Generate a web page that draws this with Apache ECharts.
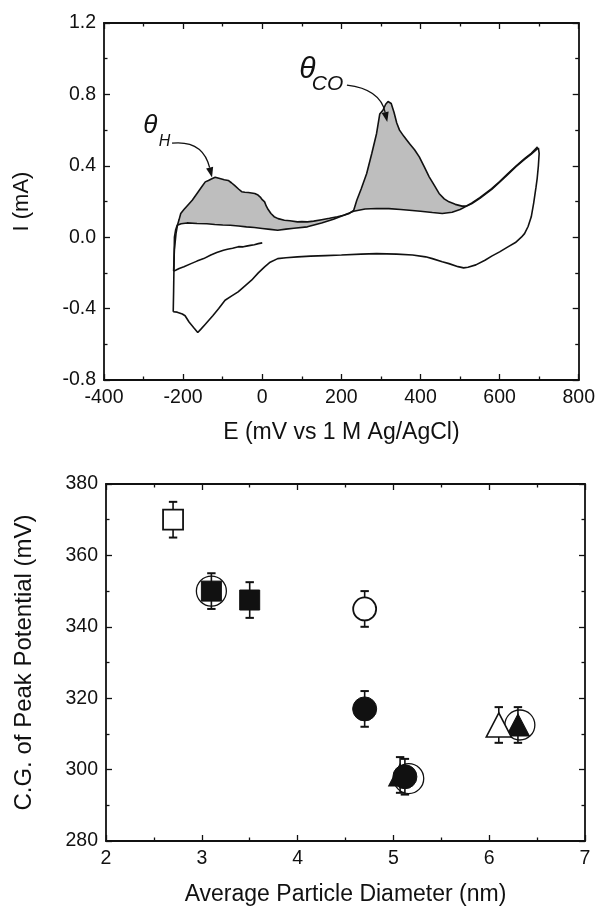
<!DOCTYPE html>
<html><head><meta charset="utf-8">
<script src="https://cdn.jsdelivr.net/npm/echarts@6/dist/echarts.min.js"></script>
<style>html,body{margin:0;padding:0;background:#fff}#c{width:598px;height:907px}</style>
</head><body><div id="c"></div>
<script>
// ---------- Top panel: cyclic voltammogram (E in mV, I in mA) ----------
const topXTicks = [-400, -200, 0, 200, 400, 600, 800];
const topYTicks = [-0.8, -0.4, 0.0, 0.4, 0.8, 1.2];

// initial cathodic sweep from 0 mV to the lower vertex
const cvInitial = [[0,-0.032],[-10,-0.036],[-20,-0.042],[-30,-0.046],[-40,-0.050],[-48,-0.054],[-60,-0.053],[-75,-0.062],[-88,-0.068],[-98,-0.073],[-115,-0.086],[-130,-0.100],[-148,-0.120],[-165,-0.134],[-180,-0.148],[-198,-0.166],[-210,-0.175],[-219,-0.185],[-224,-0.190]];

// first anodic sweep (H desorption + CO stripping peaks)
const cvAnodic1 = [[-224,-0.190],[-223,-0.120],[-222,-0.070],[-218,0.020],[-214,0.070],[-210,0.100],[-206,0.133],[-198,0.155],[-190,0.175],[-177,0.207],[-168,0.235],[-160,0.260],[-152,0.285],[-144,0.310],[-136,0.318],[-130,0.325],[-119,0.336],[-112,0.332],[-105,0.328],[-96,0.322],[-86,0.318],[-78,0.305],[-70,0.290],[-60,0.270],[-52,0.255],[-44,0.252],[-35,0.250],[-27,0.248],[-19,0.245],[-12,0.238],[-5,0.225],[0,0.210],[6,0.198],[10,0.175],[15,0.155],[22,0.133],[30,0.115],[40,0.104],[56,0.095],[70,0.092],[89,0.086],[100,0.087],[114,0.086],[130,0.090],[150,0.098],[170,0.106],[190,0.115],[206,0.123],[220,0.133],[231,0.150],[239,0.207],[250,0.270],[264,0.357],[277,0.470],[289,0.581],[297,0.690],[305,0.711],[312,0.745],[318,0.760],[326,0.749],[333,0.700],[340,0.640],[347,0.600],[358,0.565],[372,0.525],[385,0.490],[397,0.450],[410,0.392],[422,0.338],[435,0.290],[447,0.245],[460,0.215],[472,0.198],[488,0.184],[505,0.174],[515,0.174],[530,0.192],[550,0.222],[580,0.272],[600,0.312],[621,0.357],[642,0.400],[663,0.440],[680,0.470],[696,0.506]];

// cathodic sweep from the upper vertex back to the lower vertex
const cvCathodic = [[698,0.500],[700,0.470],[698,0.400],[695,0.330],[692,0.280],[686,0.190],[680,0.114],[672,0.060],[663,0.020],[655,0.000],[640,-0.030],[621,-0.054],[600,-0.082],[580,-0.106],[563,-0.129],[540,-0.155],[520,-0.168],[509,-0.172],[495,-0.165],[472,-0.148],[455,-0.138],[430,-0.120],[413,-0.110],[380,-0.100],[340,-0.095],[289,-0.092],[250,-0.095],[200,-0.100],[160,-0.103],[122,-0.106],[89,-0.110],[60,-0.115],[39,-0.120],[20,-0.140],[6,-0.166],[-10,-0.200],[-27,-0.241],[-45,-0.275],[-61,-0.306],[-78,-0.330],[-94,-0.353],[-110,-0.400],[-125,-0.440],[-135,-0.465],[-145,-0.490],[-155,-0.515],[-163,-0.534],[-172,-0.510],[-185,-0.475],[-195,-0.440],[-202,-0.430],[-215,-0.420],[-225,-0.418]];

// second anodic sweep (CO-free background)
const cvAnodic2 = [[-225,-0.418],[-224,-0.300],[-223,-0.150],[-222,0.000],[-219,0.040],[-215,0.067],[-205,0.075],[-190,0.080],[-165,0.077],[-140,0.075],[-120,0.071],[-100,0.068],[-81,0.067],[-60,0.063],[-40,0.058],[-20,0.054],[0,0.049],[20,0.044],[39,0.039],[60,0.045],[80,0.050],[114,0.058],[150,0.080],[180,0.100],[206,0.123],[231,0.145],[260,0.158],[289,0.161],[320,0.160],[350,0.155],[372,0.151],[400,0.145],[430,0.138],[455,0.133],[480,0.140],[500,0.155],[513,0.170],[530,0.188],[550,0.218],[580,0.268],[600,0.308],[621,0.352],[642,0.396],[663,0.436],[680,0.466],[698,0.500]];

// potential window of the shaded charge (between first and second anodic sweeps)
const shadeWindow = [-215, 515];

// ---------- Bottom panel: C.G. of peak potential vs particle diameter ----------
const botXTicks = [2, 3, 4, 5, 6, 7];
const botYTicks = [280, 300, 320, 340, 360, 380];

const openSquareX = [2.7],  openSquareY = [370],  openSquareErr = [5];
const filledSquareX = [3.1, 3.5], filledSquareY = [350, 347.5], filledSquareErr = [5, 5];
const openCircleX = [4.7], openCircleY = [345], openCircleErr = [5];
const filledCircleX = [4.7, 5.12], filledCircleY = [317, 298], filledCircleErr = [5, 5];
const openTriangleX = [6.1], openTriangleY = [312.5], openTriangleErr = [5];
const filledTriangleX = [5.07, 6.3], filledTriangleY = [298.5, 312.5], filledTriangleErr = [5, 5];
const bigOpenCircleX = [3.1, 5.16, 6.32], bigOpenCircleY = [350, 297.5, 312.5];

// ---------- build ----------
const FONT = '"Liberation Sans", Arial, sans-serif';
const INK = '#111';
const zip = (xs, ys) => xs.map((x, i) => [x, ys[i]]);
const zip3 = (xs, ys, es) => xs.map((x, i) => [x, ys[i], es[i]]);

function valueAxis(gridIndex, ticks, position, extra) {
  return Object.assign({
    type: 'value', gridIndex, position,
    min: ticks[0], max: ticks[ticks.length - 1], interval: ticks[1] - ticks[0],
    axisLine: { show: true, onZero: false, lineStyle: { color: INK, width: 1.8 } },
    axisTick: { show: true, inside: true, length: 6, lineStyle: { color: INK, width: 1.3 } },
    minorTick: { show: true, splitNumber: 2, length: 3.5, lineStyle: { color: INK, width: 1.3 } },
    splitLine: { show: false }, minorSplitLine: { show: false },
    axisLabel: { show: false }
  }, extra || {});
}
const labelStyle = (fmt) => ({ show: true, fontSize: 19.5, color: INK, fontFamily: FONT, margin: 8, formatter: fmt });
const nameStyle = (size) => ({ fontSize: size, color: INK, fontFamily: FONT });

const shadePoly = cvAnodic1.filter(p => p[0] >= shadeWindow[0] && p[0] <= shadeWindow[1])
  .concat(cvAnodic2.filter(p => p[0] >= shadeWindow[0] && p[0] <= shadeWindow[1]).reverse());

const errData = [].concat(
  zip3(openSquareX, openSquareY, openSquareErr),
  zip3(filledSquareX, filledSquareY, filledSquareErr),
  zip3(openCircleX, openCircleY, openCircleErr),
  zip3(filledCircleX, filledCircleY, filledCircleErr),
  zip3(openTriangleX, openTriangleY, openTriangleErr),
  zip3(filledTriangleX, filledTriangleY, filledTriangleErr)
);

const cvLine = (name, data) => ({
  name, type: 'line', xAxisIndex: 0, yAxisIndex: 0, data, showSymbol: false, symbol: 'none',
  lineStyle: { color: INK, width: 1.6 }, z: 3, silent: true
});
const scatter = (name, data, symbol, size, filled, z, bw) => ({
  name, type: 'scatter', xAxisIndex: 2, yAxisIndex: 2, data, symbol, symbolSize: size, z,
  itemStyle: { color: filled ? INK : '#fff', borderColor: INK, borderWidth: bw, opacity: 1 }, silent: true
});

const chart = echarts.init(document.getElementById('c'), null, { renderer: 'canvas' });
const option = {
  animation: false,
  backgroundColor: '#fff',
  grid: [
    { left: 104, right: 13, top: 23, height: 357 },
    { left: 106, right: 13, top: 484, height: 359 }
  ],
  xAxis: [
    valueAxis(0, topXTicks, 'bottom', { axisLabel: labelStyle(), name: 'E (mV vs 1 M Ag/AgCl)', nameLocation: 'middle', nameGap: 41, nameTextStyle: nameStyle(23) }),
    valueAxis(0, topXTicks, 'top'),
    valueAxis(1, botXTicks, 'bottom', { axisLabel: labelStyle(), name: 'Average Particle Diameter (nm)', nameLocation: 'middle', nameGap: 42, nameTextStyle: nameStyle(23) }),
    valueAxis(1, botXTicks, 'top')
  ],
  yAxis: [
    valueAxis(0, topYTicks, 'left', { axisLabel: labelStyle(v => (Math.abs(v) < 1e-9 ? 0 : v).toFixed(1)), name: 'I (mA)', nameLocation: 'middle', nameGap: 71, nameTextStyle: nameStyle(22) }),
    valueAxis(0, topYTicks, 'right'),
    valueAxis(1, botYTicks, 'left', { axisLabel: labelStyle(), name: 'C.G. of Peak Potential (mV)', nameLocation: 'middle', nameGap: 70, nameTextStyle: nameStyle(24) }),
    valueAxis(1, botYTicks, 'right')
  ],
  series: [
    {
      name: 'shade', type: 'custom', xAxisIndex: 0, yAxisIndex: 0, data: shadePoly, z: 1, silent: true,
      renderItem: (params, api) => {
        if (params.dataIndex !== 0) return;
        return { type: 'polygon', shape: { points: shadePoly.map(p => api.coord(p)) }, style: { fill: '#bebebe', stroke: null } };
      }
    },
    cvLine('initial', cvInitial),
    cvLine('anodic1', cvAnodic1),
    cvLine('cathodic', cvCathodic),
    cvLine('anodic2', cvAnodic2),
    scatter('bigOpenCircle', zip(bigOpenCircleX, bigOpenCircleY), 'circle', 30, false, 2, 1.3),
    {
      name: 'errorbars', type: 'custom', xAxisIndex: 2, yAxisIndex: 2, data: errData, z: 3, silent: true,
      renderItem: (params, api) => {
        const x = api.value(0), y = api.value(1), e = api.value(2);
        const top = api.coord([x, y + e]), bot = api.coord([x, y - e]);
        const cw = 4.2, st = { stroke: INK, lineWidth: 1.6 };
        return { type: 'group', children: [
          { type: 'line', shape: { x1: top[0], y1: top[1], x2: bot[0], y2: bot[1] }, style: st },
          { type: 'line', shape: { x1: top[0] - cw, y1: top[1], x2: top[0] + cw, y2: top[1] }, style: { stroke: INK, lineWidth: 2 } },
          { type: 'line', shape: { x1: bot[0] - cw, y1: bot[1], x2: bot[0] + cw, y2: bot[1] }, style: { stroke: INK, lineWidth: 2 } }
        ] };
      }
    },
    scatter('openSquare', zip(openSquareX, openSquareY), 'rect', 20, false, 4, 1.8),
    scatter('filledTriangle', zip(filledTriangleX, filledTriangleY), 'triangle', [23, 22], true, 4, 1),
    scatter('filledSquare', zip(filledSquareX, filledSquareY), 'rect', 20, true, 5, 1),
    scatter('openCircle', zip(openCircleX, openCircleY), 'circle', 23, false, 4, 1.8),
    scatter('filledCircle', zip(filledCircleX, filledCircleY), 'circle', 24, true, 5, 1),
    scatter('openTriangle', zip(openTriangleX, openTriangleY), 'triangle', [25, 24], false, 4, 1.6)
  ]
};
chart.setOption(option);

// ---------- annotations (anchored in data coordinates of the top panel) ----------
const P = d => chart.convertToPixel({ xAxisIndex: 0, yAxisIndex: 0 }, d);
function arrow(start, ctrl, tip) {
  const a = P(start), c = P(ctrl), t = P(tip);
  const dx = t[0] - c[0], dy = t[1] - c[1], L = Math.hypot(dx, dy);
  const ux = dx / L, uy = dy / L, hl = 10, hw = 3.6;
  const bx = t[0] - ux * hl, by = t[1] - uy * hl;
  return [
    { type: 'bezierCurve', shape: { x1: a[0], y1: a[1], cpx1: c[0], cpy1: c[1], x2: bx, y2: by }, style: { stroke: INK, lineWidth: 1.3, fill: null }, z: 10 },
    { type: 'polygon', shape: { points: [[t[0], t[1]], [bx - uy * hw, by + ux * hw], [bx + uy * hw, by - ux * hw]] }, style: { fill: INK }, z: 10 }
  ];
}
function label(d, text, font) {
  const p = P(d);
  return { type: 'text', x: p[0], y: p[1], z: 10, style: { text, font, fill: INK, align: 'center', verticalAlign: 'middle' } };
}
const graphic = [
  label([-283, 0.622], 'θ', 'italic 26px ' + FONT),
  label([-247, 0.535], 'H', 'italic 16px ' + FONT),
  ...arrow([-228, 0.527], [-150, 0.545], [-127, 0.335]),
  label([114, 0.94], 'θ', 'italic 30px ' + FONT),
  label([165, 0.855], 'CO', 'italic 21px ' + FONT),
  ...arrow([214, 0.852], [298, 0.83], [316, 0.645])
];
chart.setOption({ graphic });
</script></body></html>
